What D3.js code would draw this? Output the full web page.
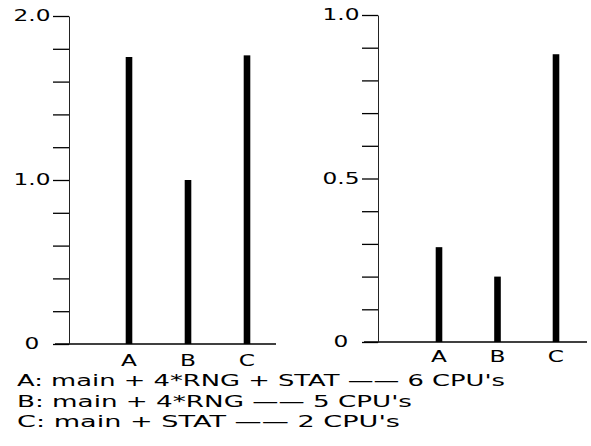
<!DOCTYPE html>
<html>
<head>
<meta charset="utf-8">
<script src="https://cdnjs.cloudflare.com/ajax/libs/d3/7.8.5/d3.min.js"></script>
<style>
  body { margin: 0; background: #fff; }
  text { font-family: "DejaVu Sans", sans-serif; fill: #000; }
</style>
</head>
<body>
<div id="chart"></div>
<script>
// chart data
const categories = ['A', 'B', 'C'];
const leftValues = [1.75, 1.0, 1.76];
const rightValues = [0.29, 0.2, 0.88];
const leftTicks = [0, 0.2, 0.4, 0.6, 0.8, 1.0, 1.2, 1.4, 1.6, 1.8, 2.0];
const rightTicks = [0, 0.1, 0.2, 0.3, 0.4, 0.5, 0.6, 0.7, 0.8, 0.9, 1.0];
const leftTickLabels = new Map([[0, '0'], [1, '1.0'], [2, '2.0']]);
const rightTickLabels = new Map([[0, '0'], [0.5, '0.5'], [1, '1.0']]);
const legendLines = [
  "A: main + 4*RNG + STAT \u2014\u2014 6 CPU's",
  "B: main + 4*RNG \u2014\u2014 5 CPU's",
  "C: main + STAT \u2014\u2014 2 CPU's"
];

const width = 591, height = 446;
const svg = d3.select('#chart').append('svg')
  .attr('width', width)
  .attr('height', height);

// layout of the two panels
const panels = [
  { values: leftValues, ticks: leftTicks, labels: leftTickLabels, max: 2,
    axisX: 69, y0: 344, y1: 16, xRange: [129, 247], base: [55, 276], catY: 366 },
  { values: rightValues, ticks: rightTicks, labels: rightTickLabels, max: 1,
    axisX: 378, y0: 342, y1: 15, xRange: [439, 556], base: [364, 587], catY: 362 }
];

panels.forEach(p => {
  const y = d3.scaleLinear().domain([0, p.max]).range([p.y0, p.y1]);
  const x = d3.scalePoint().domain(categories).range(p.xRange);

  // baseline
  svg.append('line')
    .attr('x1', p.base[0]).attr('x2', p.base[1])
    .attr('y1', y(0)).attr('y2', y(0))
    .attr('stroke', '#000').attr('stroke-width', 1.5);

  const axis = svg.append('g')
    .attr('transform', `translate(${p.axisX},0)`)
    .call(d3.axisLeft(y)
      .tickValues(p.ticks)
      .tickSize(16)
      .tickSizeOuter(0)
      .tickFormat(d => p.labels.get(d) || ''));

  axis.select('.domain').attr('stroke', '#222').attr('stroke-width', 1);
  axis.selectAll('.tick line').attr('stroke', '#000').attr('stroke-width', 1.3);
  axis.selectAll('.tick text')
    .attr('class', 'st')
    .attr('x', -37)
    .attr('text-anchor', 'middle')
    .style('font-size', '15px');

  // bars
  svg.append('g').selectAll('rect')
    .data(p.values)
    .join('rect')
    .attr('x', (d, i) => x(categories[i]) - 3.3)
    .attr('width', 6.6)
    .attr('y', d => y(d))
    .attr('height', d => y(0) - y(d))
    .attr('fill', '#000');

  // category labels
  svg.append('g').selectAll('text')
    .data(categories)
    .join('text')
    .attr('class', 'st')
    .attr('x', d => x(d))
    .attr('y', p.catY)
    .attr('text-anchor', 'middle')
    .style('font-size', '15px')
    .text(d => d);
});

// legend
const legendWidths = [488, 395, 383];
const legendY = [386, 407, 427];
svg.append('g').selectAll('text')
  .data(legendLines)
  .join('text')
  .attr('x', 17)
  .attr('y', (d, i) => legendY[i])
  .style('font-size', '15px')
  .attr('textLength', (d, i) => legendWidths[i])
  .attr('lengthAdjust', 'spacingAndGlyphs')
  .text(d => d);

// widen the short labels like the plotter font
svg.selectAll('text.st').each(function() {
  const len = this.getComputedTextLength();
  d3.select(this)
    .attr('textLength', len * 1.55)
    .attr('lengthAdjust', 'spacingAndGlyphs');
});
</script>
</body>
</html>
